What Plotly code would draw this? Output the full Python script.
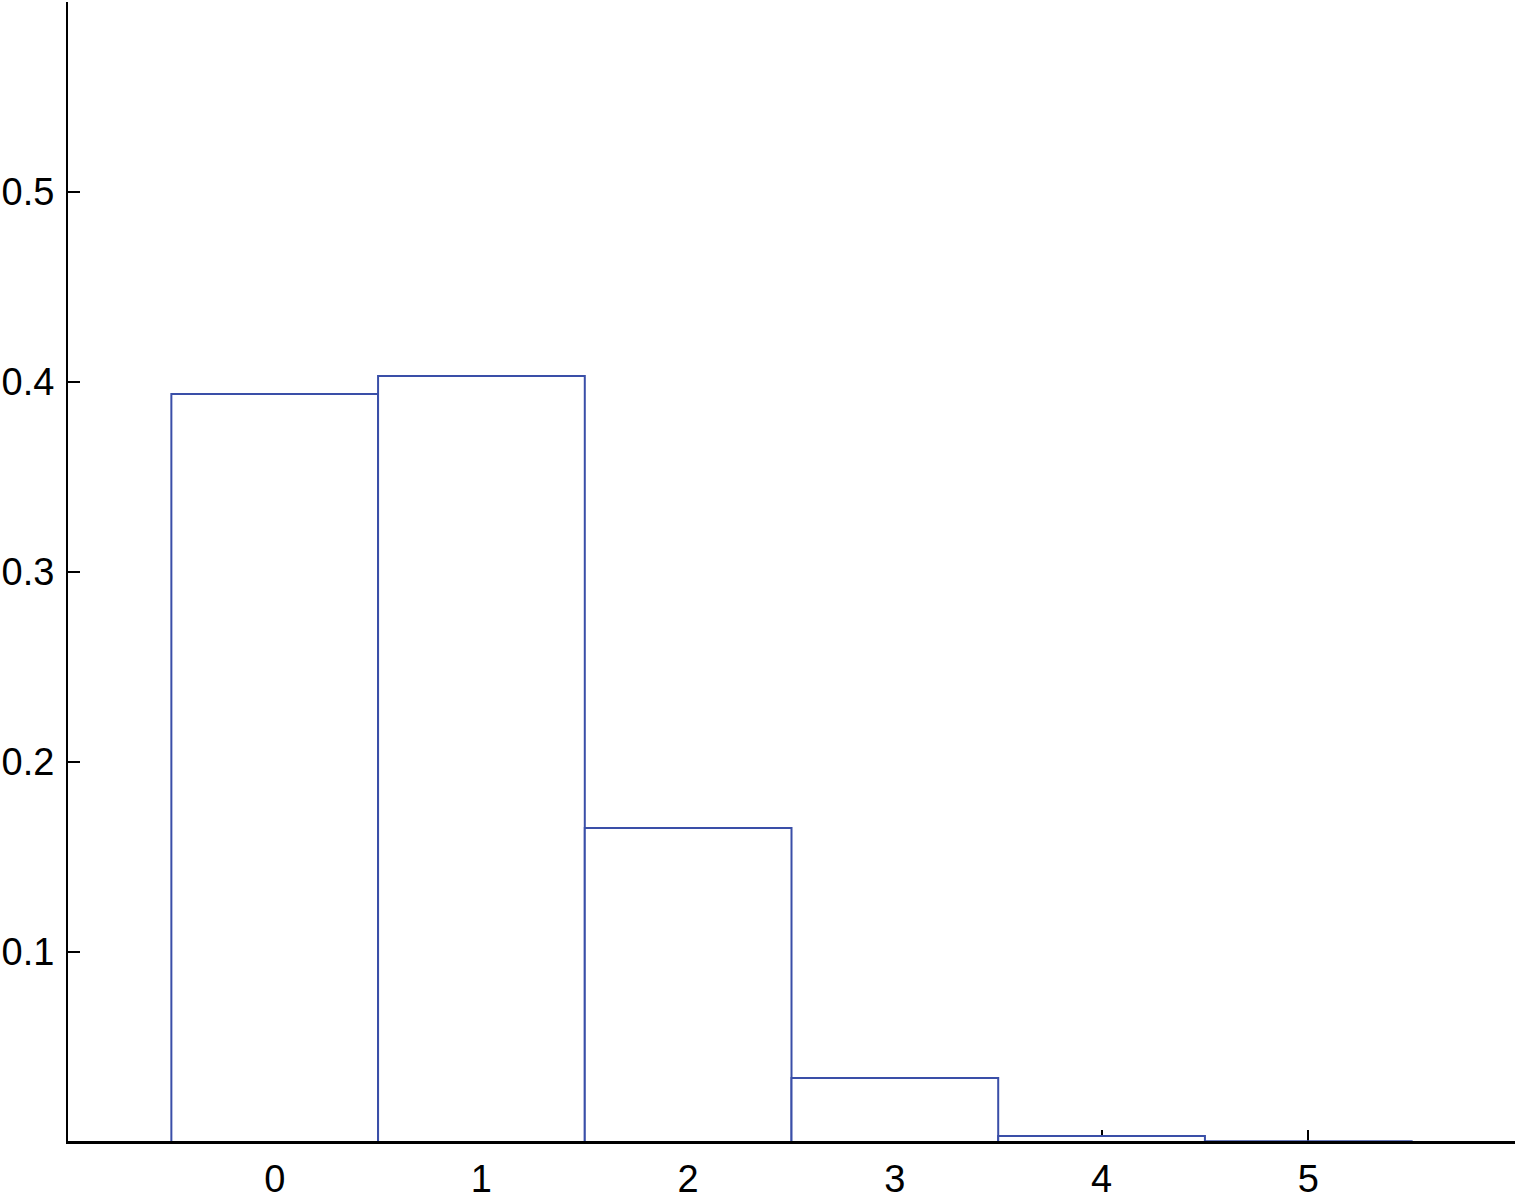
import plotly.graph_objects as go

categories = [0, 1, 2, 3, 4, 5]
values = [0.3937, 0.4032, 0.1653, 0.0337, 0.0032, 0.0004]
x_tickvals = [0, 1, 2, 3, 4, 5, 6]
x_ticktext = ["0", "1", "2", "3", "4", "5", ""]
y_tickvals = [0.1, 0.2, 0.3, 0.4, 0.5, 0.6]
y_ticktext = ["0.1", "0.2", "0.3", "0.4", "0.5", ""]

fig = go.Figure()
fig.add_trace(go.Bar(
    x=categories, y=values, width=1,
    marker=dict(color="white", line=dict(color="#3a4fa8", width=2)),
))

font = dict(family="Liberation Sans, Arial, sans-serif", size=38, color="black")
fig.update_layout(
    width=1517, height=1195,
    margin=dict(l=68, r=2, t=2, b=53, autoexpand=False),
    paper_bgcolor="white", plot_bgcolor="white",
    showlegend=False,
    font=font,
    xaxis=dict(range=[-1, 6], tickvals=x_tickvals, ticktext=x_ticktext,
               ticks="inside", ticklen=12, tickwidth=2, tickcolor="black",
               showline=True, linewidth=2, linecolor="black",
               showgrid=False, zeroline=False, ticklabelstandoff=2,
               automargin=False, layer="below traces"),
    yaxis=dict(range=[0, 0.6], tickvals=y_tickvals, ticktext=y_ticktext,
               ticks="inside", ticklen=12, tickwidth=2, tickcolor="black",
               showline=True, linewidth=2, linecolor="black",
               showgrid=False, zeroline=False, ticklabelstandoff=4,
               automargin=False),
    shapes=[dict(type="line", xref="paper", yref="paper", x0=0, x1=1, y0=0, y1=0,
                 line=dict(color="black", width=2), layer="above")],
)
fig.write_html("out.html", config={"displayModeBar": False},
               post_script="document.body.style.margin='0';document.body.style.overflow='hidden';")
